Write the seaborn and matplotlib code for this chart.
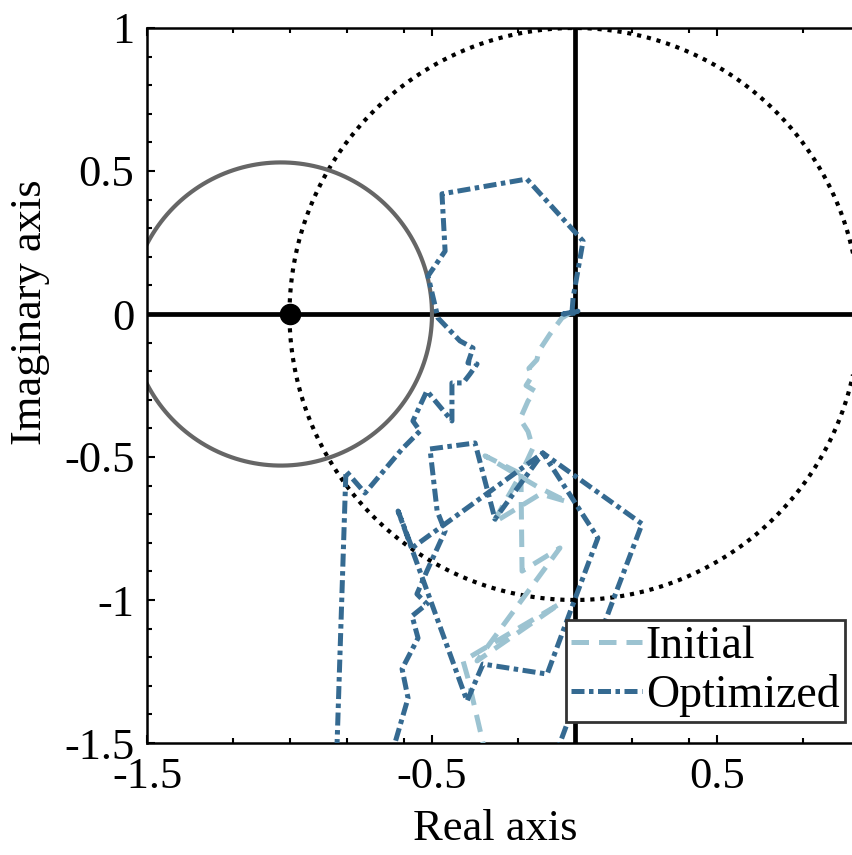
import numpy as np
import pandas as pd
import matplotlib
matplotlib.use("Agg")
import matplotlib.pyplot as plt
import seaborn as sns
from matplotlib.lines import Line2D

# ---------------- data ----------------
initial_re = [-0.016, -0.044, -0.086, -0.125, -0.132, -0.160, -0.149, -0.170, -0.139, -0.163, -0.191,
              -0.163, -0.146, -0.188, -0.314, -0.130, -0.026, -0.119, -0.286, -0.188, -0.184,
              -0.051, -0.342, -0.051, -0.391, -0.374, -0.321, -0.307]
initial_im = [0.003, -0.014, -0.070, -0.129, -0.160, -0.190, -0.217, -0.250, -0.269, -0.304, -0.367,
              -0.411, -0.469, -0.559, -0.496, -0.604, -0.656, -0.629, -0.731, -0.559, -0.899,
              -0.818, -1.213, -1.013, -1.213, -1.273, -1.500, -1.600]

opt_re = [-0.068, -0.051, 0.125, 0.237, -0.111, 0.082, -0.005, -0.096, -0.321, -0.377, -0.619,
          -0.570, -0.111, -0.279, -0.349, -0.507, -0.482, -0.454, -0.518, -0.553, -0.518, -0.570,
          -0.549, -0.605, -0.584, -0.630, -0.665,
          -0.858, -0.833, -0.802, -0.735, -0.605, -0.542, -0.567, -0.518, -0.430, -0.430, -0.391,
          -0.367, -0.342, -0.374, -0.356, -0.402, -0.479, -0.514, -0.454, -0.465, -0.167, 0.030,
          -0.005, -0.009, 0.012, -0.040, 0.002]
opt_im = [-1.668, -1.500, -1.028, -0.734, -0.486, -0.783, -1.014, -1.259, -1.224, -1.353, -0.689,
          -0.818, -0.486, -0.717, -0.451, -0.472, -0.689, -0.759, -0.899, -0.979, -1.014, -1.056,
          -1.133, -1.241, -1.343, -1.500, -1.668,
          -1.668, -1.500, -0.549, -0.626, -0.472, -0.409, -0.374, -0.269, -0.374, -0.241, -0.241,
          -0.210, -0.175, -0.171, -0.119, -0.094, -0.014, 0.133, 0.220, 0.420, 0.472, 0.255,
          0.056, 0.003, 0.010, 0.000, 0.003]

critical_point = (-1.0, 0.0)
margin_center = (-1.03, 0.0)
margin_radius = 0.53
unit_radius = 1.0

x_major = [-1.5, -0.5, 0.5]
x_major_labels = ["-1.5", "-0.5", "0.5"]
x_minor = [-1.2, -1.0, -0.8, -0.6, -0.2, 0.2, 0.4, 0.8]
y_major = [1.0, 0.5, 0.0, -0.5, -1.0, -1.5]
y_major_labels = ["1", "0.5", "0", "-0.5", "-1", "-1.5"]

# ---------------- style ----------------
sns.set_theme(style="white")
plt.rcParams["font.family"] = ["Liberation Serif", "DejaVu Serif"]
plt.rcParams["axes.linewidth"] = 1.8
plt.rcParams["text.color"] = "black"
plt.rcParams["axes.labelcolor"] = "black"
plt.rcParams["xtick.color"] = "black"
plt.rcParams["ytick.color"] = "black"

c_init = "#9cc3d1"
c_opt = "#356a91"
dash_init = [3.5, 2.0]
dash_opt = [2.6, 0.9, 0.9, 0.9]

fig = plt.figure(figsize=(8.52, 8.55), dpi=100)
ax = fig.add_axes([147 / 852, (855 - 743) / 855, 705 / 852, 715 / 855])

# reference lines
ax.axhline(0, color="black", lw=3.4, zorder=2)
ax.axvline(0, color="black", lw=3.4, zorder=2)

theta = np.linspace(0, 2 * np.pi, 400)
ax.plot(unit_radius * np.cos(theta), unit_radius * np.sin(theta), color="black",
        lw=3.0, linestyle=(0, (1, 1.4)), zorder=2)
ax.plot(margin_center[0] + margin_radius * np.cos(theta),
        margin_center[1] + margin_radius * np.sin(theta),
        color="#666666", lw=3.0, zorder=2)

df_i = pd.DataFrame({"re": initial_re, "im": initial_im})
df_o = pd.DataFrame({"re": opt_re, "im": opt_im})
sns.lineplot(data=df_i, x="re", y="im", sort=False, estimator=None, ax=ax,
             color=c_init, lw=3.6, zorder=3)
sns.lineplot(data=df_o, x="re", y="im", sort=False, estimator=None, ax=ax,
             color=c_opt, lw=3.6, zorder=4)
lines = ax.get_lines()
lines[-2].set_dashes(dash_init)
lines[-1].set_dashes(dash_opt)

ax.plot([critical_point[0]], [critical_point[1]], "o", color="black", ms=14.5, zorder=5)

ax.set_xlim(-1.5, (852 - 574.5) / 285)
ax.set_ylim(-1.5, 1.0)

ax.set_xticks(x_major)
ax.set_xticklabels(x_major_labels)
ax.set_xticks(x_minor, minor=True)
ax.set_yticks(y_major)
ax.set_yticklabels(y_major_labels)
ax.set_yticks(np.round(np.arange(-1.4, 1.0, 0.1), 2), minor=True)

ax.tick_params(which="both", direction="in", top=True, right=False, bottom=True, left=True,
               labelsize=32, width=1.5, colors="black")
ax.tick_params(axis="x", which="major", pad=10)
ax.tick_params(axis="y", which="major", pad=9)
ax.tick_params(which="major", length=6)
ax.tick_params(which="minor", length=3.5)
for s in ["left", "bottom", "top"]:
    ax.spines[s].set_color("black")
ax.spines["right"].set_visible(False)

ax.set_xlabel("Real axis", fontsize=32)
ax.set_ylabel("Imaginary axis", fontsize=32)
ax.xaxis.set_label_coords(0.494, -0.092)
ax.yaxis.set_label_coords(-0.137, 0.603)

handles = [Line2D([0], [0], color=c_init, lw=3.6, dashes=dash_init),
           Line2D([0], [0], color=c_opt, lw=3.6, dashes=dash_opt)]
leg = ax.legend(handles, ["Initial", "Optimized"], loc="lower right",
                bbox_to_anchor=(0.990, 0.029), borderaxespad=0, fontsize=33,
                handlelength=1.55, handletextpad=0.08, labelspacing=0.12,
                borderpad=0.12, fancybox=False, framealpha=1, edgecolor="#333333")
leg.get_frame().set_linewidth(2)
leg.set_zorder(10)

fig.savefig("out.png", dpi=100)
